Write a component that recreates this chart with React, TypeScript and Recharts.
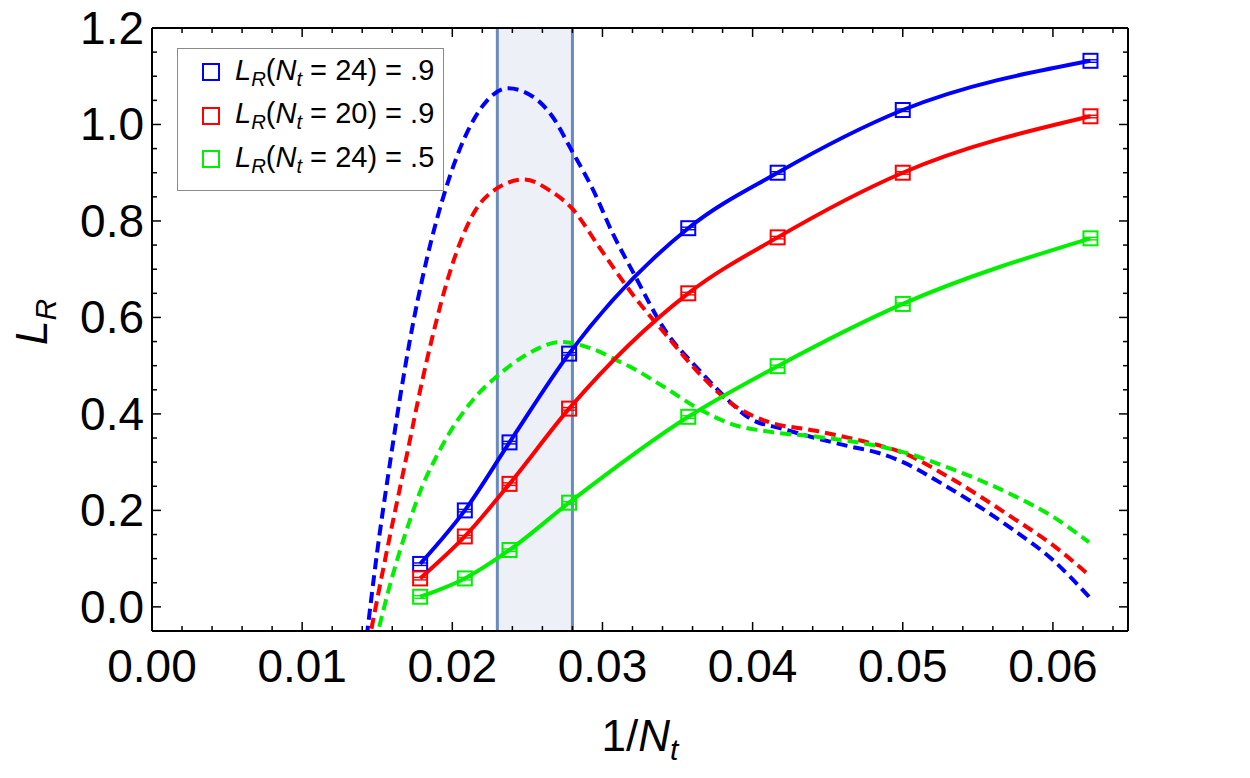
import React from 'react'
import { ComposedChart, Line, Scatter, XAxis, YAxis, ReferenceArea, ReferenceLine } from 'recharts'

// lattice sizes of the measured points, x = 1/Nt
const Nt = [56, 48, 42, 36, 28, 24, 20, 16]
const blueMeasured = [0.089, 0.2, 0.341, 0.525, 0.785, 0.9, 1.03, 1.132]
const redMeasured = [0.059, 0.146, 0.255, 0.411, 0.65, 0.766, 0.9, 1.017]
const greenMeasured = [0.021, 0.059, 0.118, 0.216, 0.394, 0.499, 0.628, 0.764]

// predicted curves (dashed), sampled along 1/Nt
const blueDashX = [0.0143, 0.015, 0.0158, 0.0165, 0.0172, 0.0183, 0.0196, 0.0209, 0.0223, 0.0237, 0.0254, 0.0267, 0.0279, 0.0294, 0.0307, 0.032, 0.0342, 0.0365, 0.038, 0.0398, 0.042, 0.0442, 0.0464, 0.0484, 0.0498, 0.0529, 0.0573, 0.06, 0.0624]
const blueDashY = [-0.062, 0.115, 0.288, 0.43, 0.557, 0.721, 0.87, 0.978, 1.049, 1.075, 1.057, 1.015, 0.949, 0.863, 0.773, 0.696, 0.572, 0.489, 0.44, 0.391, 0.369, 0.35, 0.333, 0.319, 0.303, 0.25, 0.161, 0.097, 0.021]
const redDashX = [0.0144, 0.0154, 0.017, 0.018, 0.0187, 0.0198, 0.0214, 0.0228, 0.0248, 0.0265, 0.028, 0.0298, 0.032, 0.0342, 0.0365, 0.0387, 0.0409, 0.0442, 0.0484, 0.0498, 0.0529, 0.0573, 0.06, 0.0624]
const redDashY = [-0.08, 0.079, 0.319, 0.469, 0.563, 0.69, 0.815, 0.864, 0.886, 0.863, 0.825, 0.745, 0.648, 0.565, 0.482, 0.419, 0.385, 0.365, 0.335, 0.322, 0.272, 0.185, 0.128, 0.066]
const greenDashX = [0.01485, 0.0151, 0.0158, 0.0165, 0.0172, 0.018, 0.019, 0.0198, 0.0214, 0.0232, 0.0249, 0.0272, 0.0294, 0.0311, 0.032, 0.0342, 0.0365, 0.0387, 0.0409, 0.0442, 0.0484, 0.0498, 0.0529, 0.0573, 0.06, 0.0624]
const greenDashY = [-0.075, -0.045, 0.04, 0.115, 0.182, 0.25, 0.315, 0.36, 0.43, 0.484, 0.522, 0.549, 0.534, 0.509, 0.495, 0.454, 0.409, 0.378, 0.364, 0.353, 0.333, 0.323, 0.29, 0.232, 0.187, 0.134]

// shaded window
const bandFrom = 0.023
const bandTo = 0.028

const xMajor = [0, 0.01, 0.02, 0.03, 0.04, 0.05, 0.06]
const yMajor = [0, 0.2, 0.4, 0.6, 0.8, 1.0, 1.2]
const xTicks = Array.from({ length: 33 }, (_, i) => +(i * 0.002).toFixed(3))
const yTicks = Array.from({ length: 26 }, (_, i) => +(-0.05 + i * 0.05).toFixed(2))

const BLUE = '#0000ff'
const RED = '#ff0000'
const GREEN = '#00f000'
const FONT = '"Liberation Sans", Arial, Helvetica, sans-serif'

const pts = (xs: number[], ys: number[]) => xs.map((x, i) => ({ x, y: ys[i] }))
const measured = (ys: number[]) => Nt.map((n, i) => ({ x: 1 / n, y: ys[i] }))

const isMajor = (v: number, list: number[]) => list.some(m => Math.abs(m - v) < 1e-9)
const MAJOR = 9
const MINOR = 5

const BottomTick = (p: any) => {
  const v = p.payload.value
  const big = isMajor(v, xMajor)
  return (
    <g>
      <line x1={p.x} x2={p.x} y1={p.y} y2={p.y - (big ? MAJOR : MINOR)} stroke="#000" strokeWidth={1.5} />
      {big && (
        <text x={p.x} y={p.y + 51} textAnchor="middle" fontSize={46} fontFamily={FONT} fill="#000">
          {v.toFixed(2)}
        </text>
      )}
    </g>
  )
}

const TopTick = (p: any) => {
  const big = isMajor(p.payload.value, xMajor)
  return <line x1={p.x} x2={p.x} y1={p.y} y2={p.y + (big ? MAJOR : MINOR)} stroke="#000" strokeWidth={1.5} />
}

const LeftTick = (p: any) => {
  const v = p.payload.value
  const big = isMajor(v, yMajor)
  return (
    <g>
      <line x1={p.x} x2={p.x + (big ? MAJOR : MINOR)} y1={p.y} y2={p.y} stroke="#000" strokeWidth={1.5} />
      {big && (
        <text x={p.x - 8} y={p.y + 16} textAnchor="end" fontSize={46} fontFamily={FONT} fill="#000">
          {v.toFixed(1)}
        </text>
      )}
    </g>
  )
}

const RightTick = (p: any) => {
  const big = isMajor(p.payload.value, yMajor)
  return <line x1={p.x} x2={p.x - (big ? MAJOR : MINOR)} y1={p.y} y2={p.y} stroke="#000" strokeWidth={1.5} />
}

const boxShape = (color: string) => (p: any) => (
  <g>
    <rect x={p.cx - 7} y={p.cy - 7} width={14} height={14} fill="#fff" fillOpacity={0} stroke={color} strokeWidth={2} />
    <line x1={p.cx - 7} x2={p.cx + 7} y1={p.cy - 1} y2={p.cy - 1} stroke={color} strokeWidth={1.4} />
    <line x1={p.cx - 7} x2={p.cx + 7} y1={p.cy + 1.5} y2={p.cy + 1.5} stroke={color} strokeWidth={1.4} />
  </g>
)

const XLabel = (p: any) => {
  const vb = p.viewBox
  return (
    <text x={vb.x + vb.width / 2} y={vb.y + 120} textAnchor="middle" fontSize={44} fontFamily={FONT} fill="#000">
      1/<tspan fontStyle="italic">N</tspan>
      <tspan fontStyle="italic" fontSize={30} dy={9}>t</tspan>
    </text>
  )
}

const YLabel = () => (
  <text transform="translate(47, 322) rotate(-90)" textAnchor="middle" fontSize={44} fontFamily={FONT} fill="#000">
    <tspan fontStyle="italic">L</tspan>
    <tspan fontStyle="italic" fontSize={30} dy={9}>R</tspan>
  </text>
)

const legendRows = [
  { color: BLUE, n: '24', v: '.9' },
  { color: RED, n: '20', v: '.9' },
  { color: GREEN, n: '24', v: '.5' },
]

const sub: React.CSSProperties = { fontSize: '0.7em', verticalAlign: '-0.28em', fontStyle: 'italic' }

function LegendBox() {
  return (
    <div
      style={{
        position: 'absolute', left: 177, top: 48, width: 265, height: 141,
        border: '1px solid #8a8a8a', background: '#fff', fontFamily: FONT, fontSize: 29, color: '#000',
      }}
    >
      {legendRows.map((r, i) => (
        <div key={i} style={{ position: 'absolute', left: 24, top: 5 + i * 43.5, height: 36, display: 'flex', alignItems: 'center', whiteSpace: 'nowrap' }}>
          <span style={{ width: 14, height: 14, border: `2px solid ${r.color}`, display: 'inline-block', marginRight: 15 }} />
          <span>
            <i>L</i><span style={sub}>R</span>(<i>N</i><span style={sub}>t</span> = {r.n}) = {r.v}
          </span>
        </div>
      ))}
    </div>
  )
}

export default function App() {
  return (
    <div style={{ position: 'absolute', left: 0, top: 0, width: 1250, height: 778, background: '#fff' }}>
      <ComposedChart width={1250} height={778} margin={{ top: 27, right: 121, bottom: 146, left: 151 }}>
        <XAxis
          xAxisId={0} dataKey="x" type="number" domain={[0, 0.065]} allowDataOverflow
          ticks={xTicks} interval={0} tickSize={0} tickMargin={0} tickLine={false} height={1}
          axisLine={{ stroke: '#000', strokeWidth: 2 }} tick={BottomTick} label={<XLabel />}
        />
        <XAxis
          xAxisId="top" orientation="top" dataKey="x" type="number" domain={[0, 0.065]} allowDataOverflow
          ticks={xTicks} interval={0} tickSize={0} tickMargin={0} tickLine={false} height={1}
          axisLine={{ stroke: '#000', strokeWidth: 2 }} tick={TopTick}
        />
        <YAxis
          yAxisId={0} type="number" domain={[-0.05, 1.2]} allowDataOverflow
          ticks={yTicks} interval={0} tickSize={0} tickMargin={0} tickLine={false} width={1}
          axisLine={{ stroke: '#000', strokeWidth: 2 }} tick={LeftTick} label={<YLabel />}
        />
        <YAxis
          yAxisId="right" orientation="right" type="number" domain={[-0.05, 1.2]} allowDataOverflow
          ticks={yTicks} interval={0} tickSize={0} tickMargin={0} tickLine={false} width={1}
          axisLine={{ stroke: '#000', strokeWidth: 2 }} tick={RightTick}
        />

        <ReferenceArea x1={bandFrom} x2={bandTo} y1={-0.05} y2={1.2} fill="#edf1f7" fillOpacity={1} stroke="none" />
        <ReferenceLine x={bandFrom} stroke="#6a8bbd" strokeWidth={3} />
        <ReferenceLine x={bandTo} stroke="#6a8bbd" strokeWidth={3} />

        <Line data={pts(blueDashX, blueDashY)} dataKey="y" type="monotone" stroke={BLUE} strokeWidth={4} strokeDasharray="11 6" dot={false} isAnimationActive={false} />
        <Line data={pts(redDashX, redDashY)} dataKey="y" type="monotone" stroke={RED} strokeWidth={4} strokeDasharray="11 6" dot={false} isAnimationActive={false} />
        <Line data={pts(greenDashX, greenDashY)} dataKey="y" type="monotone" stroke={GREEN} strokeWidth={4} strokeDasharray="11 6" dot={false} isAnimationActive={false} />

        <Line data={measured(blueMeasured)} dataKey="y" type="monotone" stroke={BLUE} strokeWidth={4} dot={false} isAnimationActive={false} />
        <Line data={measured(redMeasured)} dataKey="y" type="monotone" stroke={RED} strokeWidth={4} dot={false} isAnimationActive={false} />
        <Line data={measured(greenMeasured)} dataKey="y" type="monotone" stroke={GREEN} strokeWidth={4} dot={false} isAnimationActive={false} />

        <Scatter data={measured(blueMeasured)} dataKey="y" shape={boxShape(BLUE)} isAnimationActive={false} />
        <Scatter data={measured(redMeasured)} dataKey="y" shape={boxShape(RED)} isAnimationActive={false} />
        <Scatter data={measured(greenMeasured)} dataKey="y" shape={boxShape(GREEN)} isAnimationActive={false} />
      </ComposedChart>
      <LegendBox />
    </div>
  )
}
